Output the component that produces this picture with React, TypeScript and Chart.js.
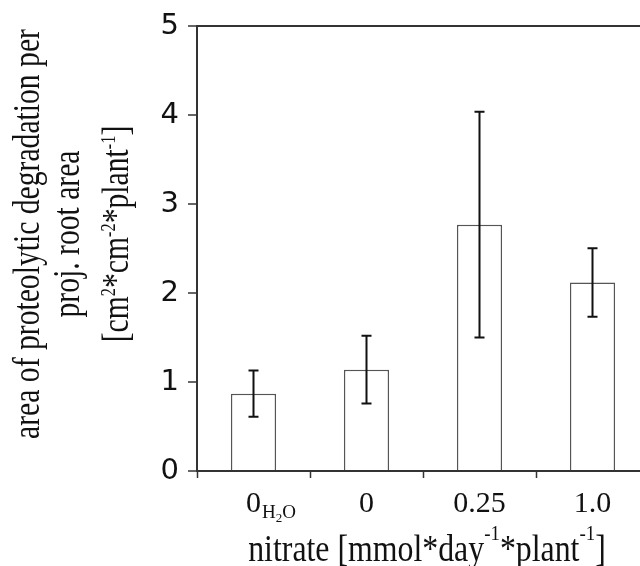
import React, { useEffect, useRef } from 'react';
import { Chart, registerables } from 'chart.js';

Chart.register(...registerables);

// ---- data ----
const categories = ['0', '0', '0.25', '1.0'];
const categorySubscripts = ['H2O', '', '', ''];
const meanValues = [0.87, 1.14, 2.77, 2.12];
const errorValues = [0.26, 0.38, 1.27, 0.385];
const yMin = 0;
const yMax = 5;
const yStep = 1;

type Part = [string, '' | 'sup'];
const xTitleParts: Part[] = [
  ['nitrate [mmol*day', ''],
  ['-1', 'sup'],
  ['*plant', ''],
  ['-1', 'sup'],
  [']', ''],
];
const yTitleLines: Part[][] = [
  [['area of proteolytic degradation per', '']],
  [['proj. root area', '']],
  [
    ['[cm', ''],
    ['2', 'sup'],
    ['*cm', ''],
    ['-2', 'sup'],
    ['*plant', ''],
    ['-1', 'sup'],
    [']', ''],
  ],
];

const SERIF = '"Liberation Serif", "Times New Roman", serif';
const TEXT = '#111';
const AXIS = '#333';

function drawRich(
  ctx: CanvasRenderingContext2D,
  parts: Part[],
  x: number,
  y: number,
  rotate: boolean,
  sx: number,
  size: number,
  supSize: number,
  supRise: number
) {
  ctx.save();
  ctx.translate(x, y);
  if (rotate) ctx.rotate(-Math.PI / 2);
  ctx.scale(sx, 1);
  ctx.textAlign = 'left';
  ctx.textBaseline = 'alphabetic';
  ctx.fillStyle = TEXT;
  let total = 0;
  const widths = parts.map(([t, k]) => {
    ctx.font = `${k === 'sup' ? supSize : size}px ${SERIF}`;
    const w = ctx.measureText(t).width;
    total += w;
    return w;
  });
  let cx = -total / 2;
  parts.forEach(([t, k], i) => {
    ctx.font = `${k === 'sup' ? supSize : size}px ${SERIF}`;
    ctx.fillText(t, cx, k === 'sup' ? -supRise : 0);
    cx += widths[i];
  });
  ctx.restore();
}

const annotationPlugin = {
  id: 'annotations',
  afterDatasetsDraw(chart: any) {
    const ctx: CanvasRenderingContext2D = chart.ctx;
    const yScale = chart.scales.y;
    const meta = chart.getDatasetMeta(0);
    ctx.save();
    ctx.strokeStyle = '#111';
    ctx.lineWidth = 2;
    meta.data.forEach((bar: any, i: number) => {
      const x = bar.x;
      const yTop = yScale.getPixelForValue(meanValues[i] + errorValues[i]);
      const yBot = yScale.getPixelForValue(meanValues[i] - errorValues[i]);
      ctx.beginPath();
      ctx.moveTo(x, yTop);
      ctx.lineTo(x, yBot);
      ctx.moveTo(x - 5, yTop);
      ctx.lineTo(x + 5, yTop);
      ctx.moveTo(x - 5, yBot);
      ctx.lineTo(x + 5, yBot);
      ctx.stroke();
    });
    ctx.restore();
  },
  afterDraw(chart: any) {
    const ctx: CanvasRenderingContext2D = chart.ctx;
    const xScale = chart.scales.x;
    const area = chart.chartArea;
    // x tick labels
    ctx.save();
    ctx.fillStyle = TEXT;
    ctx.textBaseline = 'alphabetic';
    const labelY = area.bottom + 41;
    categories.forEach((c, i) => {
      const px = xScale.getPixelForValue(i);
      ctx.font = `30px ${SERIF}`;
      ctx.textAlign = 'center';
      ctx.fillText(c, px, labelY);
      const w = ctx.measureText(c).width;
      let cx = px + w / 2 + 1;
      ctx.textAlign = 'left';
      for (const ch of categorySubscripts[i]) {
        const isDigit = /[0-9]/.test(ch);
        ctx.font = `${isDigit ? 13 : 19}px ${SERIF}`;
        ctx.fillText(ch, cx, labelY + (isDigit ? 10 : 6));
        cx += ctx.measureText(ch).width;
      }
    });
    ctx.restore();
    // x title
    drawRich(ctx, xTitleParts, (area.left + area.right) / 2 + 4, 561, false, 0.86, 37, 22, 21);
    // y title
    const baselines = [39, 79, 128];
    yTitleLines.forEach((line, i) => {
      drawRich(ctx, line, baselines[i], 234, true, 0.78, 38, 21, 13);
    });
  },
};

export default function App() {
  const ref = useRef<HTMLCanvasElement | null>(null);
  useEffect(() => {
    const canvas = ref.current;
    if (!canvas) return;
    const chart = new Chart(canvas, {
      type: 'bar',
      data: {
        labels: categories,
        datasets: [
          {
            data: meanValues,
            backgroundColor: '#ffffff',
            borderColor: '#555',
            borderWidth: 1.5,
            categoryPercentage: 1,
            barPercentage: 0.4,
          },
        ],
      },
      options: {
        responsive: false,
        animation: false,
        devicePixelRatio: 1,
        layout: { padding: { top: 23, right: 31, left: 0, bottom: 0 } },
        plugins: {
          legend: { display: false },
          tooltip: { enabled: false },
        },
        scales: {
          x: {
            offset: true,
            grid: {
              offset: true,
              drawOnChartArea: false,
              drawTicks: true,
              tickLength: 7,
              tickColor: AXIS,
              tickWidth: 1.5,
            },
            border: { color: AXIS, width: 2 },
            ticks: { display: false },
            afterFit: (s: any) => {
              s.height = 95;
            },
          },
          y: {
            min: yMin,
            max: yMax,
            ticks: {
              stepSize: yStep,
              font: { family: '"DejaVu Sans"', size: 29 },
              color: TEXT,
              padding: 9,
            },
            grid: {
              color: (c: any) => (c.tick && c.tick.value === yMax ? AXIS : 'rgba(0,0,0,0)'),
              lineWidth: 2,
              tickColor: AXIS,
              tickLength: 9,
              tickWidth: 1.5,
            },
            border: { color: AXIS, width: 2 },
            afterFit: (s: any) => {
              s.width = 197;
            },
          },
        },
      } as any,
      plugins: [annotationPlugin],
    });
    return () => chart.destroy();
  }, []);
  return (
    <div
      style={{
        position: 'fixed',
        left: 0,
        top: 0,
        width: 640,
        height: 566,
        overflow: 'hidden',
        background: '#fff',
      }}
    >
      <canvas ref={ref} width={680} height={566} style={{ display: 'block' }} />
    </div>
  );
}
